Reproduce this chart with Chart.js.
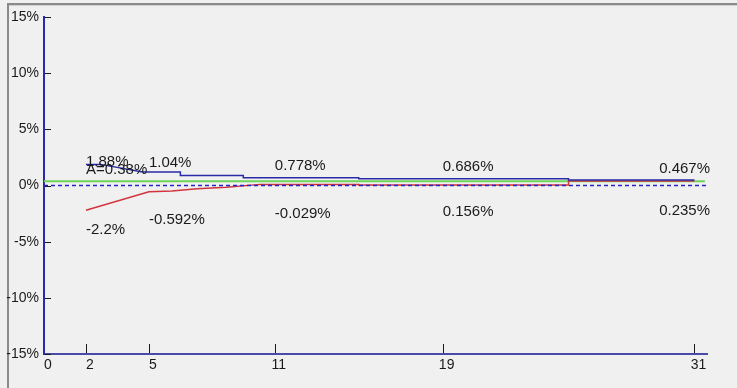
<!DOCTYPE html>
<html>
<head>
<meta charset="utf-8">
<script src="https://cdn.jsdelivr.net/npm/chart.js@4.4.0/dist/chart.umd.min.js"></script>
<style>
    body { margin: 0; background: #f0f0f0; }
    canvas { display: block; }
</style>
</head>
<body>
<canvas id="errChart" width="737" height="388"></canvas>
<script>
// x ticks (sample counts) and y ticks (percent)
const xTicks = [0, 2, 5, 11, 19, 31];
const yTicks = [-15, -10, -5, 0, 5, 10, 15];

// upper bound line (blue)
const upperX = [2, 2.7, 4.7, 6.5, 6.5, 9.5, 9.5, 15, 15, 25, 25, 31];
const upperY = [1.88, 1.88, 1.2, 1.2, 0.9, 0.9, 0.68, 0.68, 0.59, 0.59, 0.48, 0.48];

// lower bound line (red)
const lowerX = [2, 5, 6.1, 7.3, 8.7, 10.3, 15, 15, 25, 25, 31];
const lowerY = [-2.2, -0.55, -0.5, -0.3, -0.16, 0.1, 0.1, 0.05, 0.05, 0.4, 0.4];

// mean (green) and zero reference (dashed)
const meanValue = 0.38;
const meanX = [0, 31.5];
const zeroX = [0, 31.6];

// value labels
const labelN = [2, 5, 11, 19, 31];
const upperLabels = [1.88, 1.04, 0.778, 0.686, 0.467];
const lowerLabels = [-2.2, -0.592, -0.029, 0.156, 0.235];

function toPoints(xs, ys) {
    return xs.map((x, i) => ({ x: x, y: ys[i] }));
}

const tickFont = { family: 'Liberation Sans, Arial, sans-serif', size: 14 };

// background, panel edge, tick marks
const framePlugin = {
    id: 'frame',
    beforeDraw(chart) {
        const ctx = chart.ctx;
        ctx.save();
        ctx.fillStyle = '#f0f0f0';
        ctx.fillRect(0, 0, chart.width, chart.height);
        ctx.fillStyle = '#8a8a8a';
        ctx.fillRect(7, 3, chart.width - 7, 2);
        ctx.fillRect(7, 3, 2, chart.height - 3);
        ctx.fillStyle = '#d0d0d0';
        ctx.fillRect(9, 5, chart.width - 9, 1);
        ctx.restore();
    },
    afterDatasetsDraw(chart) {
        const ctx = chart.ctx;
        const xs = chart.scales.x;
        const ys = chart.scales.y;
        ctx.save();
        ctx.strokeStyle = '#1a1a1a';
        ctx.lineWidth = 1;
        ctx.beginPath();
        xTicks.forEach(v => {
            if (v === 0) return;
            const px = Math.round(xs.getPixelForValue(v)) + 0.5;
            ctx.moveTo(px, ys.bottom - 10);
            ctx.lineTo(px, ys.bottom - 1);
        });
        yTicks.forEach(v => {
            const py = Math.round(ys.getPixelForValue(v)) + 0.5;
            ctx.moveTo(xs.left + 1, py);
            ctx.lineTo(xs.left + 7, py);
        });
        ctx.stroke();
        ctx.restore();
    }
};

// percent labels above / below the bands
const labelPlugin = {
    id: 'valueLabels',
    afterDatasetsDraw(chart) {
        const ctx = chart.ctx;
        const xs = chart.scales.x;
        const ys = chart.scales.y;
        ctx.save();
        ctx.font = '15px Liberation Sans, Arial, sans-serif';
        ctx.fillStyle = '#1a1a1a';
        ctx.textBaseline = 'middle';
        ctx.textAlign = 'left';

        function put(text, n, py) {
            const w = ctx.measureText(text).width;
            const px = Math.min(xs.getPixelForValue(n), xs.right + 3 - w);
            ctx.fillText(text, px, py);
        }

        labelN.forEach((n, i) => {
            put(upperLabels[i] + '%', n, ys.getPixelForValue(upperLabels[i]) + (i === 0 ? -3 : -11));
            put(lowerLabels[i] + '%', n, ys.getPixelForValue(lowerLabels[i]) + (i === 0 ? 20 : 28));
        });
        put('A=' + meanValue + '%', labelN[0], ys.getPixelForValue(meanValue) - 11);
        ctx.restore();
    }
};

const ctx = document.getElementById('errChart').getContext('2d');
new Chart(ctx, {
    type: 'line',
    data: {
        datasets: [
            {
                label: 'upper',
                data: toPoints(upperX, upperY),
                borderColor: '#2a2aa6',
                borderWidth: 1.5,
                pointRadius: 0,
                order: 0
            },
            {
                label: 'zero',
                data: toPoints(zeroX, zeroX.map(() => 0)),
                borderColor: '#2424c8',
                borderWidth: 1.5,
                borderDash: [4, 3],
                pointRadius: 0,
                order: 1
            },
            {
                label: 'lower',
                data: toPoints(lowerX, lowerY),
                borderColor: '#d2343e',
                borderWidth: 1.5,
                pointRadius: 0,
                order: 2
            },
            {
                label: 'mean',
                data: toPoints(meanX, meanX.map(() => meanValue)),
                borderColor: '#6fd45a',
                borderWidth: 2,
                pointRadius: 0,
                order: 3
            }
        ]
    },
    options: {
        responsive: false,
        animation: false,
        layout: { padding: { left: 0, top: 17, right: 30, bottom: 0 } },
        plugins: {
            legend: { display: false },
            tooltip: { enabled: false }
        },
        scales: {
            x: {
                type: 'linear',
                min: 0,
                max: 31.6,
                afterBuildTicks: s => { s.ticks = xTicks.map(v => ({ value: v })); },
                afterFit: s => { s.height = 34; },
                ticks: {
                    autoSkip: false,
                    maxRotation: 0,
                    padding: 3,
                    labelOffset: 4,
                    color: '#1a1a1a',
                    font: tickFont
                },
                grid: { display: false, drawTicks: false },
                border: { display: true, color: '#4a4aa8', width: 2 }
            },
            y: {
                type: 'linear',
                min: -15,
                max: 15,
                afterBuildTicks: s => { s.ticks = yTicks.map(v => ({ value: v })); },
                afterFit: s => { s.width = 44; },
                ticks: {
                    padding: 5,
                    color: '#1a1a1a',
                    font: tickFont,
                    callback: v => v + '%'
                },
                grid: { display: false, drawTicks: false },
                border: { display: true, color: '#2a2ab0', width: 2 }
            }
        }
    },
    plugins: [framePlugin, labelPlugin]
});
</script>
</body>
</html>
